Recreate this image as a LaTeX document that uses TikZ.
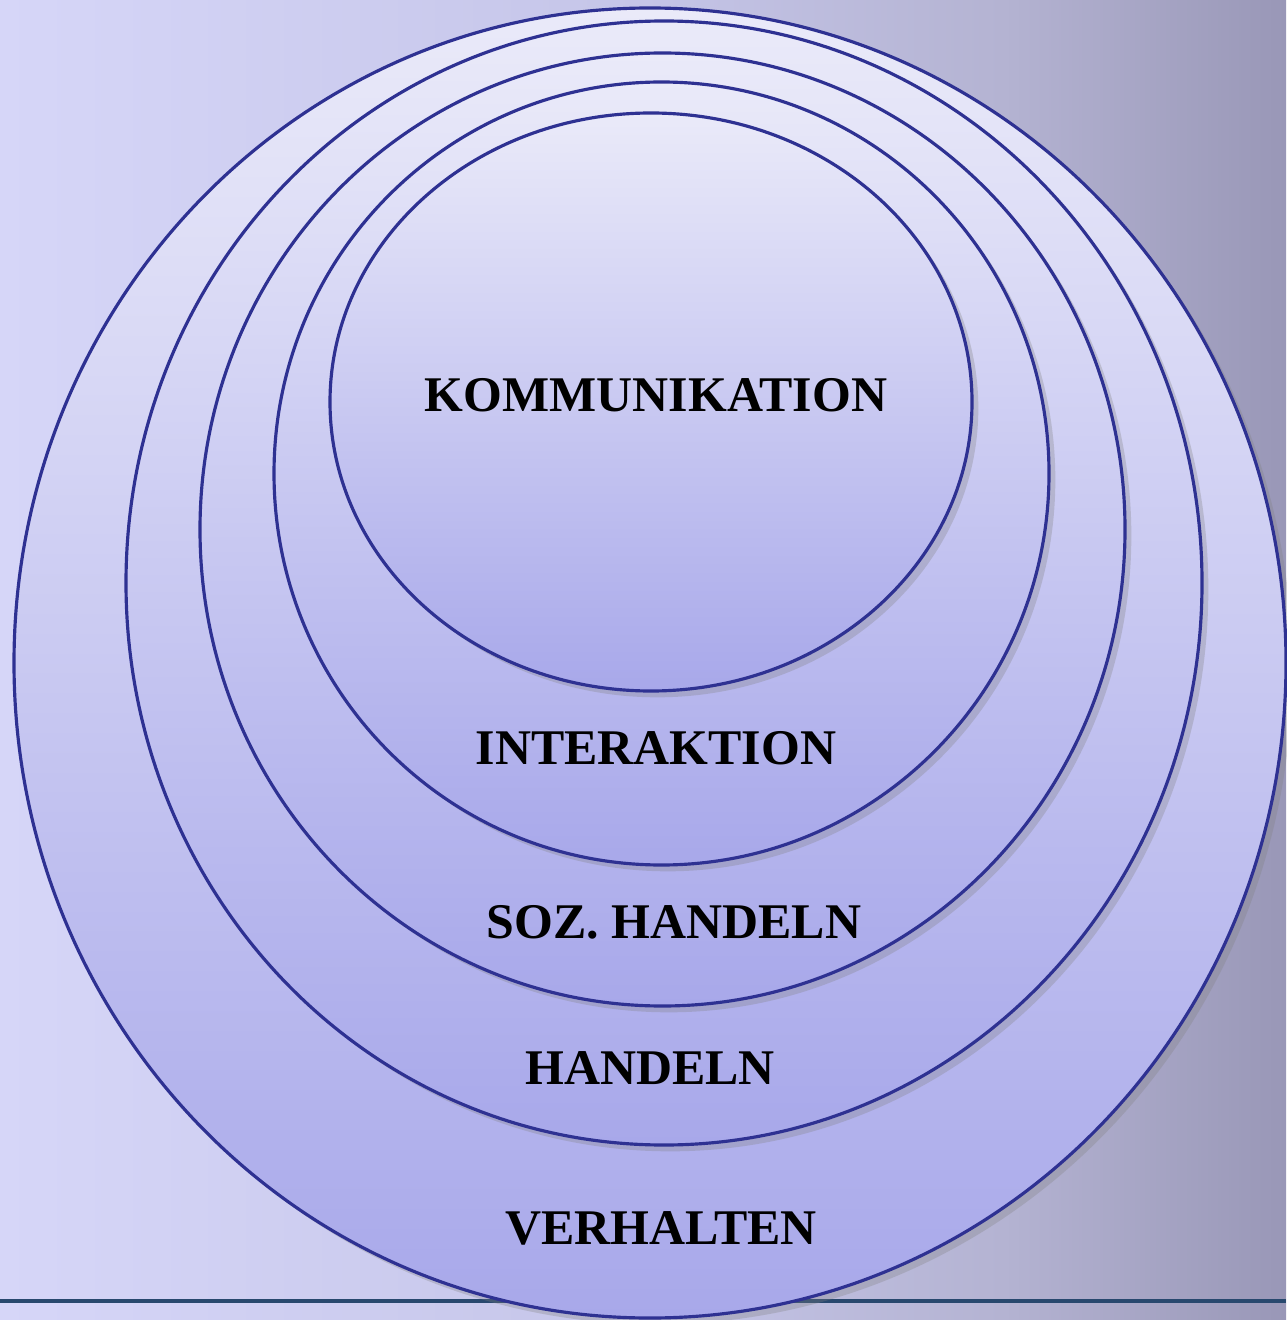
\documentclass[tikz,border=0pt]{standalone}
\usepackage{fontspec}
\setmainfont{Liberation Serif}
\usetikzlibrary{shapes.geometric,shadows}
\definecolor{rim}{RGB}{46,49,146}
\definecolor{ringtop}{RGB}{234,234,249}
\definecolor{ringbot}{RGB}{168,168,234}
\definecolor{bgleft}{RGB}{214,214,248}
\definecolor{bgmid}{RGB}{197,197,232}
\definecolor{bgthree}{RGB}{180,179,210}
\definecolor{bgright}{RGB}{153,151,183}
\definecolor{floorline}{RGB}{40,72,110}
\pgfdeclarehorizontalshading{bgshade}{100bp}{color(0bp)=(bgleft); color(25bp)=(bgleft);
  color(50bp)=(bgmid); color(64bp)=(bgthree); color(75bp)=(bgright); color(100bp)=(bgright)}
\tikzset{
  ring/.style={draw=rim, line width=0.9pt, ellipse, inner sep=0pt,
               top color=ringtop, bottom color=ringbot,
               drop shadow={opacity=0.3, shadow xshift=1.8pt, shadow yshift=-1.8pt}},
  lbl/.style={font=\fontsize{14.2}{17}\selectfont\bfseries, inner sep=0pt},
}

\begin{document}
\begin{tikzpicture}
  \useasboundingbox (0,0) rectangle (12.86,-13.20);
  \fill[shading=bgshade] (0,0) rectangle (12.86,-13.20);
  % base line behind the rings
  \coordinate (floorL) at (0,-13.01);
  \coordinate (floorR) at (12.86,-13.01);
  \draw[floorline, line width=1.1pt] (floorL) -- (floorR);
  % rings, outside in
  \node[ring, minimum width=12.72cm, minimum height=13.10cm] (verhalten) at (6.50,-6.63) {};
  \node[ring, minimum width=10.76cm, minimum height=11.24cm] (handeln)   at (6.64,-5.83) {};
  \node[ring, minimum width=9.25cm,  minimum height=9.53cm]  (sozh)      at (6.625,-5.295) {};
  \node[ring, minimum width=7.75cm,  minimum height=7.83cm]  (interakt)  at (6.615,-4.735) {};
  \node[ring, minimum width=6.42cm,  minimum height=5.78cm]  (kommun)    at (6.51,-4.02) {};
  % labels
  \node[lbl] (tkommun)    at (6.56,-3.95)  {KOMMUNIKATION};
  \node[lbl] (tinterakt)  at (6.56,-7.48)  {INTERAKTION};
  \node[lbl] (tsozh)      at (6.74,-9.22)  {SOZ. HANDELN};
  \node[lbl] (thandeln)   at (6.50,-10.68) {HANDELN};
  \node[lbl] (tverhalten) at (6.61,-12.28) {VERHALTEN};
\end{tikzpicture}
\end{document}
